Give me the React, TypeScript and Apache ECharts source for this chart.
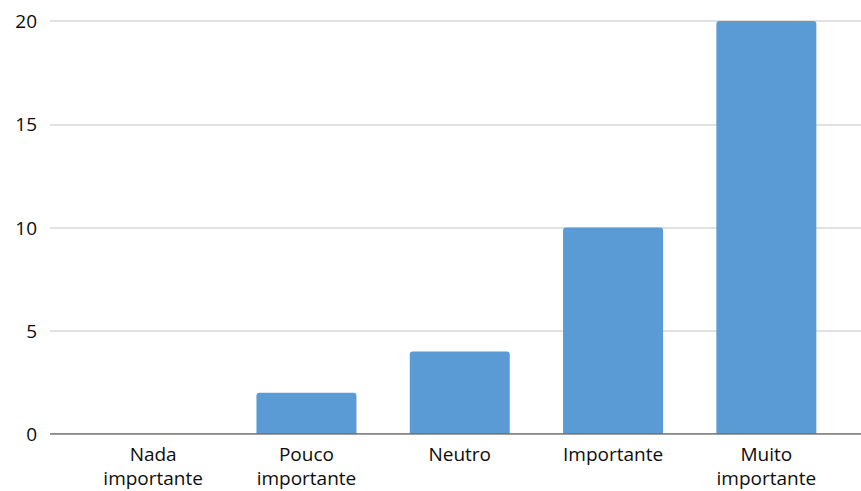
import React, { useEffect, useRef } from "react";
import * as echarts from "echarts";

const categories = ["Nada\nimportante", "Pouco\nimportante", "Neutro", "Importante", "Muito\nimportante"];
const values = [0, 2, 4, 10, 20];
const yMin = 0;
const yMax = 20;
const yStep = 5;

const FONT = "'Open Sans', 'Noto Sans', sans-serif";

export default function App() {
  const ref = useRef<HTMLDivElement>(null);

  useEffect(() => {
    if (!ref.current) return;
    const chart = echarts.init(ref.current, null, { renderer: "svg" });
    chart.setOption({
      animation: false,
      backgroundColor: "#ffffff",
      grid: [
        // full-width grid: gridlines, value labels and the baseline
        { left: 50, right: 0, top: 21, bottom: 57 },
        // inner grid holding the category bars
        { left: 76.5, width: 766.5, top: 21, bottom: 57 },
      ],
      xAxis: [
        {
          gridIndex: 0,
          type: "value",
          min: 0,
          max: 1,
          show: true,
          axisLine: { show: false },
          axisTick: { show: false },
          axisLabel: { show: false },
          splitLine: { show: false },
        },
        {
          gridIndex: 1,
          type: "category",
          data: categories,
          boundaryGap: true,
          axisLine: { show: false },
          axisTick: { show: false },
          axisLabel: {
            color: "#0d0d0d",
            fontFamily: FONT,
            fontSize: 19,
            lineHeight: 24,
            margin: 8,
            interval: 0,
          },
        },
      ],
      yAxis: [
        {
          gridIndex: 0,
          type: "value",
          min: yMin,
          max: yMax,
          interval: yStep,
          axisLine: { show: false },
          axisTick: { show: false },
          axisLabel: {
            color: "#0d0d0d",
            fontFamily: FONT,
            fontSize: 19,
            margin: 13,
          },
          splitLine: { lineStyle: { color: "#d9d9d9", width: 1.5 } },
        },
        {
          gridIndex: 1,
          type: "value",
          min: yMin,
          max: yMax,
          interval: yStep,
          show: false,
          splitLine: { show: false },
        },
      ],
      series: [
        {
          type: "line",
          xAxisIndex: 0,
          yAxisIndex: 0,
          data: [[0, 0], [1, 0]],
          symbol: "none",
          lineStyle: { color: "#6b6b6b", width: 1.5 },
          silent: true,
          z: 5,
        },
        {
          type: "bar",
          xAxisIndex: 1,
          yAxisIndex: 1,
          data: values,
          barWidth: 100,
          itemStyle: { color: "#5b9bd5", borderRadius: [3, 3, 0, 0] },
          z: 3,
        },
      ],
    });
    return () => chart.dispose();
  }, []);

  return <div ref={ref} style={{ width: 861, height: 491, position: "absolute", left: 0, top: 0 }} />;
}
